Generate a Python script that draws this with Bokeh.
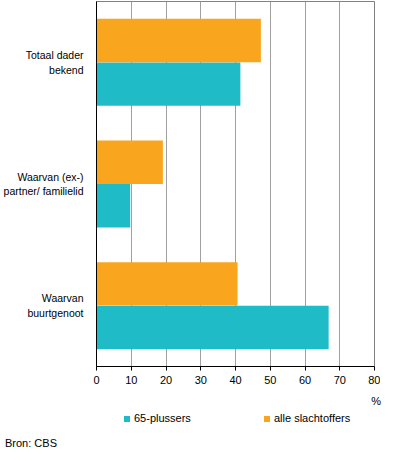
from bokeh.plotting import figure
from bokeh.layouts import column
from bokeh.models import FactorRange, Range1d, SingleIntervalTicker, Div
from bokeh.transform import dodge
from bokeh.embed import file_html
from bokeh.resources import INLINE

categories = ["Totaal dader\nbekend", "Waarvan (ex-)\npartner/ familielid", "Waarvan\nbuurtgenoot"]
plussers65 = [41.4, 9.7, 66.8]
alle = [47.3, 19.1, 40.6]
series_names = ["65-plussers", "alle slachtoffers"]
colors = ["#1fbbc6", "#f9a61e"]
unit_label = "%"
source_note = "Bron: CBS"

FONT = "Liberation Sans"

p = figure(width=380, height=390, output_backend="svg", toolbar_location=None,
           y_range=FactorRange(factors=categories[::-1], range_padding=0),
           x_range=Range1d(0, 80),
           min_border_left=88, min_border_right=6, min_border_top=1, min_border_bottom=24)

src = dict(cat=categories, a=plussers65, b=alle)
p.hbar(y=dodge("cat", -0.179, range=p.y_range), right="a", left=0, height=0.357,
       source=src, fill_color=colors[0], line_color=None)
p.hbar(y=dodge("cat", 0.179, range=p.y_range), right="b", left=0, height=0.357,
       source=src, fill_color=colors[1], line_color=None)

p.outline_line_color = "#808080"
p.outline_line_width = 1
p.ygrid.grid_line_color = None
p.xgrid.grid_line_color = "#a0a0a0"
p.xgrid.grid_line_width = 1

p.xaxis.ticker = SingleIntervalTicker(interval=10)
p.xaxis.axis_line_color = "black"
p.xaxis.major_tick_line_color = "black"
p.xaxis.major_tick_out = 4
p.xaxis.major_tick_in = 0
p.xaxis.minor_tick_line_color = None
p.xaxis.major_label_text_font = FONT
p.xaxis.major_label_text_font_size = "11px"
p.xaxis.major_label_text_color = "black"
p.xaxis.major_label_standoff = 5

p.yaxis.axis_line_color = "black"
p.yaxis.major_tick_line_color = None
p.yaxis.minor_tick_line_color = None
p.yaxis.major_label_text_font = FONT
p.yaxis.major_label_text_font_size = "10.5px"
p.yaxis.major_label_text_color = "black"
p.yaxis.major_label_standoff = 7

# footer: unit label, legend and source note
sw = "position:absolute;width:6px;height:6px;top:21px;"
tx = "position:absolute;line-height:13px;white-space:nowrap;"
html = (
    f'<div style="position:relative;width:380px;height:55px;font-family:\'{FONT}\';'
    f'font-size:11px;color:#000;">'
    f'<span style="{tx}top:0px;right:4px;">{unit_label}</span>'
    f'<span style="{sw}left:119px;background:{colors[0]};"></span>'
    f'<span style="{tx}top:17px;left:129px;">{series_names[0]}</span>'
    f'<span style="{sw}left:259px;background:{colors[1]};"></span>'
    f'<span style="{tx}top:17px;left:269px;">{series_names[1]}</span>'
    f'<span style="{tx}top:42px;left:0px;">{source_note}</span>'
    '</div>'
)
footer = Div(text=html, width=380, height=55)

layout = column(p, footer, spacing=0)
open("out.html", "w").write(file_html(layout, INLINE))
